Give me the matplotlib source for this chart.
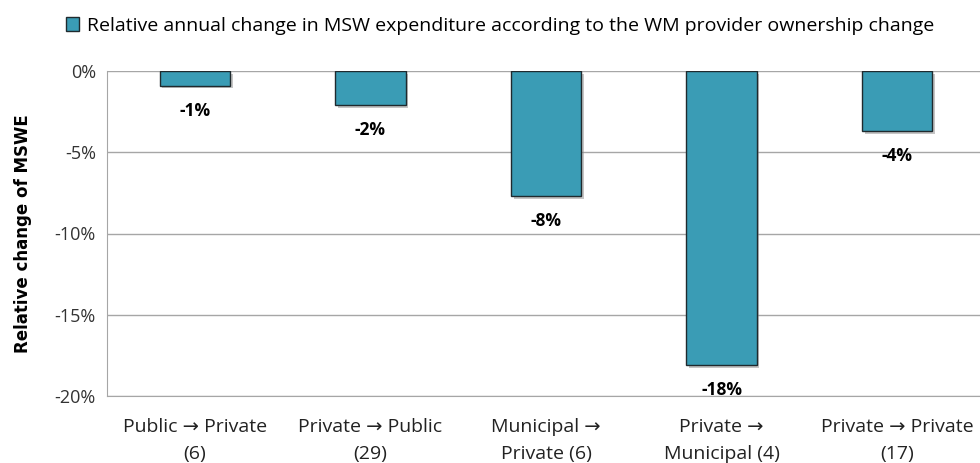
import numpy as np
import matplotlib.pyplot as plt
import matplotlib.patheffects as pe
from matplotlib.patches import Patch

# data
categories = [
    "Public \u2192 Private\n(6)",
    "Private \u2192 Public\n(29)",
    "Municipal \u2192\nPrivate (6)",
    "Private \u2192\nMunicipal (4)",
    "Private \u2192 Private\n(17)",
]
values = [-0.9, -2.1, -7.7, -18.1, -3.7]
value_labels = ["-1%", "-2%", "-8%", "-18%", "-4%"]
y_ticks = [0, -5, -10, -15, -20]
y_ticklabels = ["0%", "-5%", "-10%", "-15%", "-20%"]
legend_label = "Relative annual change in MSW expenditure according to the WM provider ownership change"

bar_color = "#3A9CB5"

plt.rcParams["font.family"] = ["Open Sans", "DejaVu Sans"]

fig = plt.figure(figsize=(9.8, 4.63), dpi=100)
# axes runs a bit past the right edge, like the cropped original
ax = fig.add_axes([107 / 980, 67 / 463, 878 / 980, 325 / 463])

x = np.arange(len(categories))
bars = ax.bar(x, values, width=0.40, color=bar_color, edgecolor="#1f2a2e",
              linewidth=1.0, zorder=3)
for b in bars:
    b.set_path_effects([pe.SimplePatchShadow(offset=(2, -2), shadow_rgbFace="0.55",
                                             alpha=0.5), pe.Normal()])

for xi, v, lab in zip(x, values, value_labels):
    ax.annotate(lab, (xi, v), xytext=(0, -18), textcoords="offset points",
                ha="center", va="center", fontsize=12.5, fontweight="bold",
                color="black")

ax.set_xlim(-0.5, 4.5)
ax.set_ylim(-20, 0)
ax.set_yticks(y_ticks)
ax.set_yticklabels(y_ticklabels, fontsize=13, color="#333333")
ax.set_xticks(x)
ax.set_xticklabels(categories, fontsize=14, color="#222222", linespacing=1.6)
ax.tick_params(axis="both", length=0, pad=8)
ax.tick_params(axis="x", pad=16)

ax.grid(axis="y", color="#a6a6a6", lw=1.0, zorder=0)
for s in ["top", "right"]:
    ax.spines[s].set_visible(False)
ax.spines["left"].set_color("#a6a6a6")
ax.spines["bottom"].set_color("#a6a6a6")

ax.set_ylabel("Relative change of MSWE", fontsize=12, fontweight="bold",
              family="DejaVu Sans", labelpad=16)

fig.legend(handles=[Patch(facecolor=bar_color, edgecolor="#1f2a2e", lw=1.0)],
           labels=[legend_label], loc="center left",
           bbox_to_anchor=(48 / 980, 1 - 26 / 463), frameon=False,
           handlelength=0.7, handleheight=0.7, handletextpad=0.4,
           prop={"size": 14})

fig.savefig("out.png", dpi=100)
